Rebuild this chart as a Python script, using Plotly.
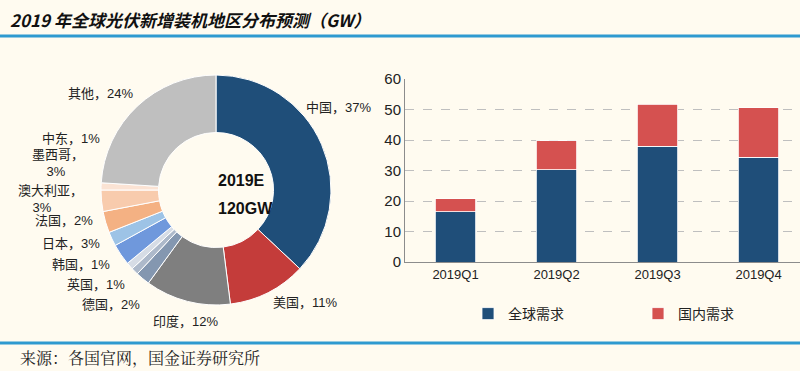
import plotly.graph_objects as go

# ---- data ----
regions = ["中国", "美国", "印度", "德国", "英国", "韩国", "日本", "法国", "澳大利亚", "墨西哥", "中东", "其他"]
shares = [37, 11, 12, 2, 1, 1, 3, 2, 3, 3, 1, 24]
total_label = ["2019E", "120GW"]

quarters = ["2019Q1", "2019Q2", "2019Q3", "2019Q4"]
global_demand = [16.4, 30.3, 38.0, 34.3]
domestic_demand = [4.4, 9.4, 13.8, 16.3]
series_names = ["全球需求", "国内需求"]

title_text = "2019 年全球光伏新增装机地区分布预测（GW）"
source_text = "来源：各国官网，国金证券研究所"

# ---- styles ----
W, H = 800, 371
BG = "#FFFBF0"
pie_colors = ["#1F4E79", "#C43C3A", "#7F7F7F", "#8497B0", "#ADB9CA", "#D6DCE5",
              "#6F98DC", "#9DC3E6", "#F4B183", "#F8CBAD", "#FBE3D4", "#BFBFBF"]
bar_colors = ["#1F4E79", "#D55150"]
FONT = "Liberation Sans, Noto Sans CJK SC, sans-serif"

def px(x):
    return x / W

def py(y):
    return 1 - y / H

fig = go.Figure()

fig.add_trace(go.Pie(
    labels=regions, values=shares, sort=False, direction="clockwise", rotation=0,
    hole=0.5, textinfo="none", hoverinfo="label+percent",
    marker=dict(colors=pie_colors, line=dict(color="white", width=1)),
    domain=dict(x=[px(101), px(331)], y=[py(305), py(75)]),
    showlegend=False,
))

for name, vals, col in zip(series_names, [global_demand, domestic_demand], bar_colors):
    fig.add_trace(go.Bar(
        x=quarters, y=vals, name=name, marker=dict(color=col, line=dict(color="white", width=0.8)),
        xaxis="x", yaxis="y",
    ))

# pie labels (positions are layout, text from data)
label_pos = [(304, 107), (271, 302), (151, 321), (80, 304),
             (65, 284), (50, 264), (40, 243), (33, 221),
             (16, 199), (30, 163), (40, 138), (66, 93)]
wrap = {"澳大利亚": True, "墨西哥": True}
annotations = []
for name, val, (x, y) in zip(regions, shares, label_pos):
    if wrap.get(name):
        txt = f"{name}，<br>    {val}%"
    else:
        txt = f"{name}，{val}%"
    annotations.append(dict(x=px(x), y=py(y), xref="paper", yref="paper", xanchor="left",
                            yanchor="middle", text=txt, showarrow=False, align="left",
                            font=dict(size=13, color="#222", family=FONT)))

for txt, yy in zip(total_label, [181, 208]):
    annotations.append(dict(x=px(216), y=py(yy), xref="paper", yref="paper", showarrow=False,
                            text="<b>" + txt + "</b>", yanchor="middle",
                            font=dict(size=16, color="#111", family=FONT), align="center"))

annotations.append(dict(x=px(8), y=py(19), xref="paper", yref="paper", xanchor="left",
                        yanchor="middle", showarrow=False,
                        text="<b><i>" + title_text + "</i></b>",
                        font=dict(size=17, color="#111", family="Noto Sans CJK SC, sans-serif")))
annotations.append(dict(x=px(18), y=py(357), xref="paper", yref="paper", xanchor="left",
                        yanchor="middle", showarrow=False, text=source_text,
                        font=dict(size=16, color="#222", family="Noto Serif CJK SC, Noto Sans CJK SC, serif")))

shapes = [
    dict(type="line", xref="paper", yref="paper", x0=0, x1=1, y0=py(36), y1=py(36),
         line=dict(color="#2E9AD0", width=3)),
    dict(type="line", xref="paper", yref="paper", x0=0, x1=1, y0=py(343), y1=py(343),
         line=dict(color="#2E9AD0", width=3)),
]

fig.update_layout(
    width=W, height=H, margin=dict(l=0, r=0, t=0, b=0, autoexpand=False),
    paper_bgcolor=BG, plot_bgcolor=BG,
    barmode="stack", bargap=0.6,
    font=dict(family=FONT, color="#222"),
    xaxis=dict(domain=[px(405), 1], range=[-0.5, 3.41], showline=True, linecolor="#8C8C8C",
               linewidth=1, ticks="", tickfont=dict(size=13, color="#222"), showgrid=False),
    yaxis=dict(domain=[py(262), py(79)], range=[0, 60], dtick=10, showline=True,
               linecolor="#8C8C8C", linewidth=1, showgrid=True, gridcolor="#BFBFBF",
               griddash="dash", gridwidth=1, tickfont=dict(size=15, color="#222"),
               ticks="", zeroline=False),
    legend=dict(orientation="h", x=px(468), y=py(314), xanchor="left", yanchor="middle",
                entrywidth=125, entrywidthmode="pixels", font=dict(size=14, color="#222"),
                bgcolor="rgba(0,0,0,0)", itemwidth=30, traceorder="normal"),
    annotations=annotations, shapes=shapes,
)

fig.write_html("out.html", config={"displayModeBar": False},
               post_script="document.body.style.margin='0';document.body.style.background='" + BG + "';")
